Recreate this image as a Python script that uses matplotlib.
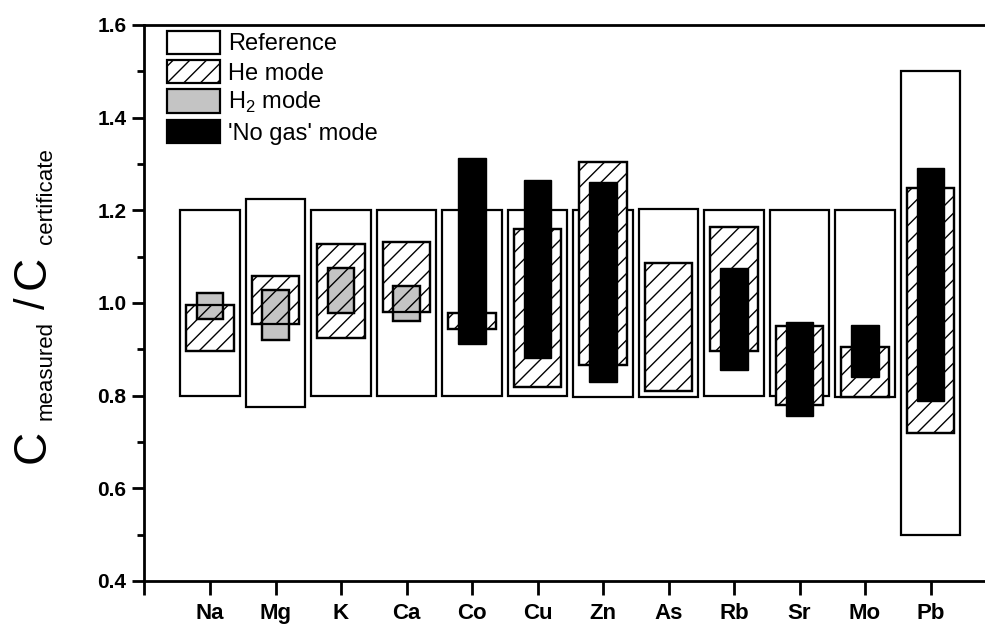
import numpy as np
import matplotlib
matplotlib.use("Agg")
import matplotlib.pyplot as plt
from matplotlib.patches import Patch

plt.rcParams["font.family"] = ["Liberation Sans", "DejaVu Sans"]
plt.rcParams["mathtext.fontset"] = "custom"
plt.rcParams["mathtext.rm"] = "Liberation Sans"
plt.rcParams["hatch.linewidth"] = 1.0

# ---------- data (ratio C_measured / C_certificate, low/high of each box) ----------
elements = ["Na", "Mg", "K", "Ca", "Co", "Cu", "Zn", "As", "Rb", "Sr", "Mo", "Pb"]
ref_lo = [0.80, 0.775, 0.80, 0.80, 0.80, 0.80, 0.797, 0.797, 0.80, 0.80, 0.798, 0.50]
ref_hi = [1.20, 1.224, 1.20, 1.20, 1.20, 1.20, 1.20, 1.203, 1.20, 1.20, 1.20, 1.50]
he_lo = [0.897, 0.954, 0.925, 0.980, 0.943, 0.819, 0.866, 0.809, 0.897, 0.780, 0.796, 0.720]
he_hi = [0.996, 1.058, 1.127, 1.131, 0.979, 1.160, 1.304, 1.087, 1.163, 0.950, 0.906, 1.249]
h2_lo = [0.965, 0.919, 0.978, 0.961, None, None, None, None, None, None, None, None]
h2_hi = [1.022, 1.027, 1.075, 1.037, None, None, None, None, None, None, None, None]
nogas_lo = [None, None, None, None, 0.911, 0.882, 0.829, None, 0.855, 0.755, 0.840, 0.789]
nogas_hi = [None, None, None, None, 1.312, 1.265, 1.262, None, 1.076, 0.958, 0.953, 1.292]

x = np.arange(1, len(elements) + 1)

def floating(lo, hi):
    idx = [i for i in range(len(lo)) if lo[i] is not None]
    xs = x[idx]
    b = np.array([lo[i] for i in idx])
    h = np.array([hi[i] for i in idx]) - b
    return xs, h, b

fig = plt.figure(figsize=(9.85, 6.24), dpi=100)
ax = fig.add_axes([0.1467, 0.069, 0.8645, 0.891])

lw = 1.6
# Reference
xs, h, b = floating(ref_lo, ref_hi)
ax.bar(xs, h, bottom=b, width=0.91, facecolor="white", edgecolor="black", lw=lw, zorder=2)
# He mode: white fill first, hatch drawn after H2 so it shows over grey
xs, h, b = floating(he_lo, he_hi)
ax.bar(xs, h, bottom=b, width=0.72, facecolor="white", edgecolor="black", lw=lw, zorder=3)
xs2, h2, b2 = floating(h2_lo, h2_hi)
ax.bar(xs2, h2, bottom=b2, width=0.40, facecolor="#c4c4c4", edgecolor="black", lw=lw, zorder=4)
ax.bar(xs, h, bottom=b, width=0.72, fill=False, hatch="//", edgecolor="black", lw=lw, zorder=5)
ax.bar(xs2, h2, bottom=b2, width=0.40, fill=False, edgecolor="black", lw=lw, zorder=6)
# 'No gas' mode
xs, h, b = floating(nogas_lo, nogas_hi)
ax.bar(xs, h, bottom=b, width=0.42, facecolor="black", edgecolor="black", lw=1.0, zorder=7)

# ---------- axes ----------
ax.set_xlim(0, 13)
ax.set_ylim(0.4, 1.6)
ax.set_xticks(np.arange(0, 14))
ax.set_xticklabels([""] + elements + [""], fontsize=16, fontweight="bold")
ax.set_yticks(np.arange(0.4, 1.61, 0.2))
ax.set_yticklabels([f"{v:.1f}" for v in np.arange(0.4, 1.61, 0.2)], fontsize=15, fontweight="bold")
ax.set_yticks(np.arange(0.5, 1.6, 0.2), minor=True)
ax.tick_params(axis="x", direction="out", length=10, width=2, pad=6)
ax.tick_params(axis="y", which="major", direction="out", length=9, width=2, pad=4)
ax.tick_params(axis="y", which="minor", direction="out", length=5, width=2)
for s in ax.spines.values():
    s.set_linewidth(2)
ax.spines["right"].set_visible(False)

# y label built from pieces so subscripts can be smaller
W, H = 985.0, 624.0
def vtext(px, py, s, size):
    fig.text(px / W, 1 - py / H, s, rotation=90, rotation_mode="anchor",
             ha="left", va="baseline", fontsize=size)
vtext(45, 463, "C", 33)
vtext(52, 420, "measured", 16)
vtext(45, 309, "/", 30)
vtext(45, 289, "C", 33)
vtext(52, 244, "certificate", 16)

# legend
handles = [
    Patch(facecolor="white", edgecolor="black", lw=lw),
    Patch(facecolor="white", edgecolor="black", hatch="//", lw=lw),
    Patch(facecolor="#c4c4c4", edgecolor="black", lw=lw),
    Patch(facecolor="black", edgecolor="black", lw=lw),
]
labels = ["Reference", "He mode", r"H$_\mathregular{2}$ mode", "'No gas' mode"]
ax.legend(handles, labels, loc="upper left", bbox_to_anchor=(0.026, 0.99),
          frameon=False, fontsize=17, handlelength=2.25, handleheight=1.15,
          handletextpad=0.35, labelspacing=0.2, borderpad=0, borderaxespad=0)

plt.savefig("out.png", dpi=100)
